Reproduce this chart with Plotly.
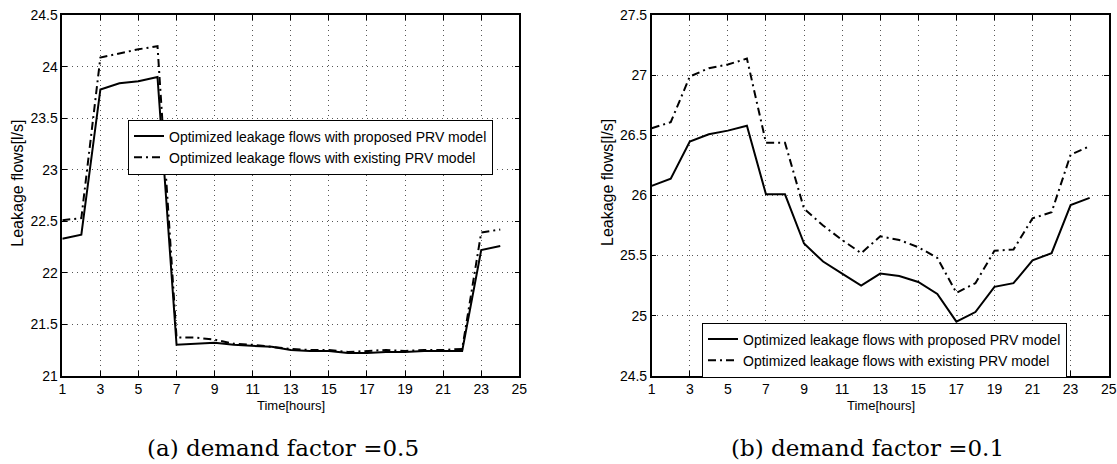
import plotly.graph_objects as go

hours = list(range(1, 25))

# (a) demand factor = 0.5
prop_a = [22.33, 22.37, 23.78, 23.84, 23.86, 23.90, 21.30, 21.31, 21.32, 21.30,
          21.29, 21.28, 21.25, 21.24, 21.24, 21.22, 21.22, 21.23, 21.23, 21.24,
          21.24, 21.24, 22.22, 22.26]
exist_a = [22.51, 22.53, 24.09, 24.13, 24.17, 24.20, 21.37, 21.37, 21.35, 21.31,
           21.30, 21.28, 21.26, 21.25, 21.25, 21.23, 21.24, 21.25, 21.24, 21.25,
           21.25, 21.26, 22.39, 22.42]

# (b) demand factor = 0.1
prop_b = [26.08, 26.14, 26.45, 26.51, 26.54, 26.58, 26.01, 26.01, 25.60, 25.45,
          25.35, 25.25, 25.35, 25.33, 25.28, 25.18, 24.95, 25.03, 25.24, 25.27,
          25.46, 25.52, 25.92, 25.98]
exist_b = [26.56, 26.61, 26.99, 27.06, 27.09, 27.14, 26.44, 26.44, 25.89, 25.75,
           25.63, 25.52, 25.66, 25.63, 25.57, 25.48, 25.19, 25.27, 25.54, 25.55,
           25.81, 25.86, 26.34, 26.41]

name_prop = "Optimized leakage flows with proposed PRV model"
name_exist = "Optimized leakage flows with existing PRV model"
x_ticks = list(range(1, 26, 2))

W, H = 1117, 464
FONT = "Liberation Sans, Arial, sans-serif"
DASHDOT = "8px,4px,2px,4px"

fig = go.Figure()
fig.add_trace(go.Scatter(x=hours, y=prop_a, mode="lines", name=name_prop,
                         line=dict(color="black", width=2), xaxis="x", yaxis="y",
                         legend="legend"))
fig.add_trace(go.Scatter(x=hours, y=exist_a, mode="lines", name=name_exist,
                         line=dict(color="black", width=2, dash=DASHDOT),
                         xaxis="x", yaxis="y", legend="legend"))
fig.add_trace(go.Scatter(x=hours, y=prop_b, mode="lines", name=name_prop,
                         line=dict(color="black", width=2), xaxis="x2", yaxis="y2",
                         legend="legend2"))
fig.add_trace(go.Scatter(x=hours, y=exist_b, mode="lines", name=name_exist,
                         line=dict(color="black", width=2, dash=DASHDOT),
                         xaxis="x2", yaxis="y2", legend="legend2"))

ydom = [1 - 375.7 / H, 1 - 15.3 / H]
common = dict(showline=True, linecolor="black", linewidth=1.5, mirror="ticks",
              ticks="inside", ticklen=5, tickcolor="black", tickwidth=1,
              showgrid=True, gridcolor="#555", gridwidth=1, griddash="1px,4px",
              zeroline=False, automargin=False,
              tickfont=dict(family=FONT, size=14, color="black"))

fig.update_layout(
    width=W, height=H, autosize=False,
    margin=dict(l=0, r=0, t=0, b=0, pad=0, autoexpand=False),
    paper_bgcolor="white", plot_bgcolor="white",
    xaxis=dict(domain=[62.3 / W, 519.3 / W], range=[1, 25], tickvals=x_ticks,
               anchor="y", **common),
    yaxis=dict(domain=ydom, range=[21, 24.5], dtick=0.5, tick0=21, anchor="x",
               **common),
    xaxis2=dict(domain=[651.7 / W, 1108.7 / W], range=[1, 25], tickvals=x_ticks,
                anchor="y2", **common),
    yaxis2=dict(domain=ydom, range=[24.5, 27.5], dtick=0.5, tick0=24.5,
                anchor="x2", **common),
    legend=dict(x=128 / W, y=1 - 147 / H, xanchor="left", yanchor="middle",
                bgcolor="white", bordercolor="black", borderwidth=1,
                font=dict(family=FONT, size=14, color="black"),
                tracegroupgap=0),
    legend2=dict(x=702 / W, y=1 - 322.5 / H, xanchor="left", yanchor="top",
                 bgcolor="white", bordercolor="black", borderwidth=1,
                 font=dict(family=FONT, size=14, color="black"),
                 tracegroupgap=0),
    showlegend=True,
)

annots = []
for cx in (290.5, 880.5):
    annots.append(dict(text="Time[hours]", x=cx / W, y=1 - 405 / H,
                       xref="paper", yref="paper", xanchor="center",
                       yanchor="middle", showarrow=False,
                       font=dict(family=FONT, size=13, color="black")))
for lx in (16.7, 607):
    annots.append(dict(text="Leakage flows[l/s]", x=lx / W, y=1 - 183 / H,
                       xref="paper", yref="paper", xanchor="center",
                       yanchor="middle", showarrow=False, textangle=-90,
                       font=dict(family=FONT, size=16, color="black")))
for cx, txt in ((283, "(a) demand factor =0.5"), (867, "(b) demand factor =0.1")):
    annots.append(dict(text=txt, x=cx / W, y=1 - 448 / H,
                       xref="paper", yref="paper", xanchor="center",
                       yanchor="middle", showarrow=False,
                       font=dict(family="DejaVu Serif, serif", size=23,
                                 color="black")))
fig.update_layout(annotations=annots)

fig.write_html("out.html")
